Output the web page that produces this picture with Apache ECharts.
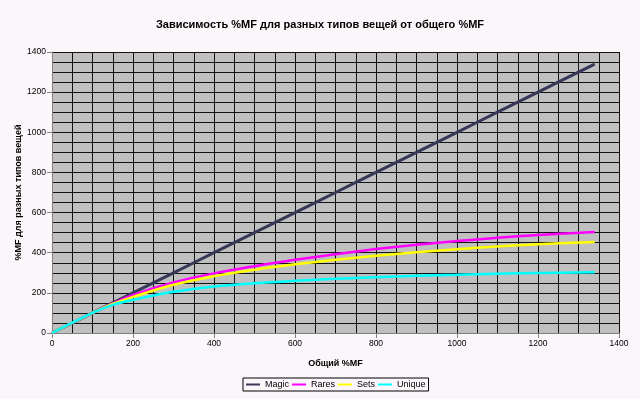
<!DOCTYPE html>
<html>
<head>
<meta charset="utf-8">
<script src="https://cdn.jsdelivr.net/npm/echarts@6/dist/echarts.min.js"></script>
<style>
  html, body { margin: 0; padding: 0; background: #faf6fa; }
  #chart { width: 640px; height: 399px; }
</style>
</head>
<body>
<div id="chart"></div>
<script>
// общий %MF
var totalMF = [0, 100, 150, 200, 300, 400, 500, 600, 700, 800, 900, 1000, 1100, 1200, 1340];
// значения по типам вещей
var magic  = [0, 100, 150, 200, 300, 400, 500, 600, 700, 800, 900, 1000, 1100, 1200, 1340];
var rares  = [0, 100, 147, 190, 252, 297, 333, 365, 392, 418, 440, 458, 474, 488, 503];
var sets   = [0, 100, 145, 180, 240, 283, 315, 342, 365, 385, 402, 417, 431, 442, 453];
var unique = [0, 100, 140, 165, 205, 232, 248, 260, 270, 278, 285, 290, 295, 299, 303];

var FONT = 'Liberation Sans, Arial, sans-serif';

function pairs(ys) {
    return totalMF.map(function (x, i) { return [x, ys[i]]; });
}

function makeSeries(name, ys, color, width) {
    return {
        name: name,
        type: 'line',
        data: pairs(ys),
        smooth: 0.35,
        showSymbol: false,
        lineStyle: { color: color, width: width },
        itemStyle: { color: color },
        emphasis: { disabled: true }
    };
}

function valueAxis(name, gap, rotate) {
    return {
        type: 'value',
        min: 0,
        max: 1400,
        interval: 200,
        name: name,
        nameLocation: 'middle',
        nameGap: gap,
        nameRotate: rotate,
        nameMoveOverlap: false,
        nameTextStyle: { fontFamily: FONT, fontSize: 9, fontWeight: 'bold', color: '#000' },
        axisLine: { show: true, lineStyle: { color: '#808080', width: 1 } },
        axisTick: { show: true, length: 5, lineStyle: { color: '#808080' } },
        axisLabel: {
            fontFamily: FONT, fontSize: 8.5, color: '#000', margin: 6,
            formatter: function (v) { return String(v); }
        },
        splitLine: { show: true, lineStyle: { color: '#111', width: 1 } },
        minorTick: { show: false, splitNumber: 4 },
        minorSplitLine: { show: true, lineStyle: { color: '#111', width: 1 } }
    };
}

var chart = echarts.init(document.getElementById('chart'));

var option = {
    backgroundColor: '#faf6fa',
    animation: false,
    title: {
        text: 'Зависимость %MF для разных типов вещей от общего %MF',
        left: 'center',
        top: 14,
        textStyle: { fontFamily: FONT, fontSize: 11, fontWeight: 'bold', color: '#000' }
    },
    grid: {
        left: 52,
        right: 21,
        top: 52,
        bottom: 66,
        outerBoundsMode: 'none',
        containLabel: false,
        show: true,
        backgroundColor: '#c0c0c0',
        borderWidth: 0
    },
    legend: {
        left: 243,
        top: 378,
        icon: 'rect',
        itemWidth: 14,
        itemHeight: 2,
        itemGap: 3,
        padding: [2, 3, 2, 3],
        borderColor: '#000',
        borderWidth: 1,
        backgroundColor: '#faf6fa',
        textStyle: { fontFamily: FONT, fontSize: 9, color: '#000' },
        data: ['Magic', 'Rares', 'Sets', 'Unique']
    },
    xAxis: valueAxis('Общий %MF', 26, 0),
    yAxis: valueAxis('%MF для разных типов вещей', 29, 90),
    series: [
        makeSeries('Magic', magic, '#383858', 3),
        makeSeries('Rares', rares, '#ff00ff', 2.5),
        makeSeries('Sets', sets, '#ffff00', 2.5),
        makeSeries('Unique', unique, '#00ffff', 2.5)
    ]
};

chart.setOption(option);
</script>
</body>
</html>
